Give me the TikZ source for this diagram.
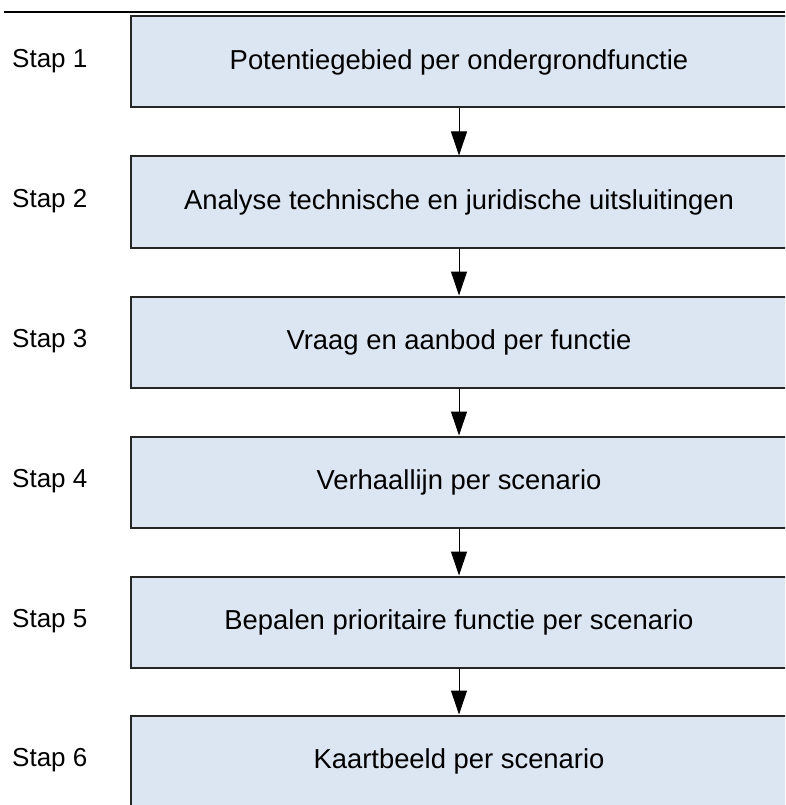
\documentclass[tikz,border=0pt]{standalone}
\usepackage{fontspec}
\setmainfont{Liberation Sans}
\usetikzlibrary{arrows.meta}
\definecolor{stapfill}{HTML}{DCE6F2}
\tikzset{
  stapbox/.style={draw=black!85,line width=2pt,fill=stapfill,minimum width=656pt,minimum height=91pt,inner sep=0pt,
    font=\fontsize{27.4}{32}\selectfont},
  staplabel/.style={anchor=west,inner sep=0pt,font=\fontsize{26}{30}\selectfont},
  stapflow/.style={line width=1pt,-{Triangle[width=16pt,length=24pt]}}
}
\begin{document}
\begin{tikzpicture}[x=1pt,y=-1pt]
\useasboundingbox (0,0) rectangle (785,805);
\clip (0,0) rectangle (785,805);
\draw[line width=2.2pt] (4,12) -- (785,12);
\node[stapbox] (s1) at (459,62) {Potentiegebied per ondergrondfunctie};
\node[stapbox] (s2) at (459,202) {Analyse technische en juridische uitsluitingen};
\node[stapbox] (s3) at (459,342) {Vraag en aanbod per functie};
\node[stapbox] (s4) at (459,482) {Verhaallijn per scenario};
\node[stapbox] (s5) at (459,622) {Bepalen prioritaire functie per scenario};
\node[stapbox] (s6) at (459,761) {Kaartbeeld per scenario};
\node[staplabel] (l1) at (12,61) {Stap 1};
\node[staplabel] (l2) at (12,201) {Stap 2};
\node[staplabel] (l3) at (12,341) {Stap 3};
\node[staplabel] (l4) at (12,481) {Stap 4};
\node[staplabel] (l5) at (12,621) {Stap 5};
\node[staplabel] (l6) at (12,760) {Stap 6};
\draw[stapflow] (s1.south) -- (s2.north);
\draw[stapflow] (s2.south) -- (s3.north);
\draw[stapflow] (s3.south) -- (s4.north);
\draw[stapflow] (s4.south) -- (s5.north);
\draw[stapflow] (s5.south) -- (s6.north);
\end{tikzpicture}
\end{document}
